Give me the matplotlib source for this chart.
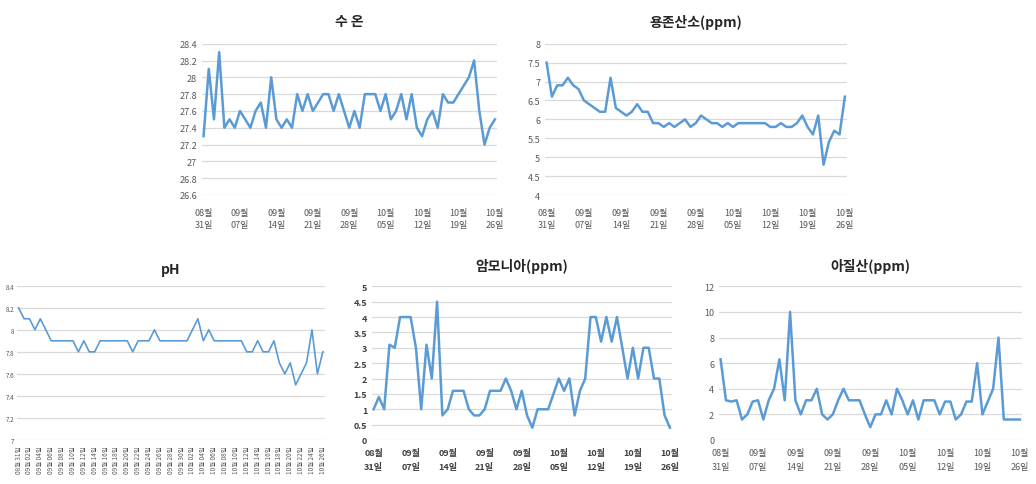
import matplotlib
matplotlib.use("Agg")
import matplotlib.pyplot as plt
import numpy as np
import datetime as dt

plt.rcParams['font.family'] = ['Noto Sans CJK KR', 'DejaVu Sans']

start = dt.date(2023, 8, 31)
dates = [start + dt.timedelta(days=i) for i in range(57)]
date_labels = [f"{d.month:02d}월\n{d.day:02d}일" for d in dates]
date_labels_1line = [f"{d.month:02d}월 {d.day:02d}일" for d in dates]

water_temp = [27.3, 28.1, 27.5, 28.3, 27.4, 27.5, 27.4, 27.6, 27.5, 27.4,
              27.6, 27.7, 27.4, 28.0, 27.5, 27.4, 27.5, 27.4, 27.8, 27.6,
              27.8, 27.6, 27.7, 27.8, 27.8, 27.6, 27.8, 27.6, 27.4, 27.6,
              27.4, 27.8, 27.8, 27.8, 27.6, 27.8, 27.5, 27.6, 27.8, 27.5,
              27.8, 27.4, 27.3, 27.5, 27.6, 27.4, 27.8, 27.7, 27.7, 27.8,
              27.9, 28.0, 28.2, 27.6, 27.2, 27.4, 27.5]
dissolved_oxygen = [7.5, 6.6, 6.9, 6.9, 7.1, 6.9, 6.8, 6.5, 6.4, 6.3,
                    6.2, 6.2, 7.1, 6.3, 6.2, 6.1, 6.2, 6.4, 6.2, 6.2,
                    5.9, 5.9, 5.8, 5.9, 5.8, 5.9, 6.0, 5.8, 5.9, 6.1,
                    6.0, 5.9, 5.9, 5.8, 5.9, 5.8, 5.9, 5.9, 5.9, 5.9,
                    5.9, 5.9, 5.8, 5.8, 5.9, 5.8, 5.8, 5.9, 6.1, 5.8,
                    5.6, 6.1, 4.8, 5.4, 5.7, 5.6, 6.6]
ph = [8.2, 8.1, 8.1, 8.0, 8.1, 8.0, 7.9, 7.9, 7.9, 7.9,
      7.9, 7.8, 7.9, 7.8, 7.8, 7.9, 7.9, 7.9, 7.9, 7.9,
      7.9, 7.8, 7.9, 7.9, 7.9, 8.0, 7.9, 7.9, 7.9, 7.9,
      7.9, 7.9, 8.0, 8.1, 7.9, 8.0, 7.9, 7.9, 7.9, 7.9,
      7.9, 7.9, 7.8, 7.8, 7.9, 7.8, 7.8, 7.9, 7.7, 7.6,
      7.7, 7.5, 7.6, 7.7, 8.0, 7.6, 7.8]
ammonia = [1.0, 1.4, 1.0, 3.1, 3.0, 4.0, 4.0, 4.0, 3.0, 1.0,
           3.1, 2.0, 4.5, 0.8, 1.0, 1.6, 1.6, 1.6, 1.0, 0.8,
           0.8, 1.0, 1.6, 1.6, 1.6, 2.0, 1.6, 1.0, 1.6, 0.8,
           0.4, 1.0, 1.0, 1.0, 1.5, 2.0, 1.6, 2.0, 0.8, 1.6,
           2.0, 4.0, 4.0, 3.2, 4.0, 3.2, 4.0, 3.0, 2.0, 3.0,
           2.0, 3.0, 3.0, 2.0, 2.0, 0.8, 0.4]
nitrite = [6.3, 3.1, 3.0, 3.1, 1.6, 2.0, 3.0, 3.1, 1.6, 3.1,
           4.0, 6.3, 3.1, 10.0, 3.1, 2.0, 3.1, 3.1, 4.0, 2.0,
           1.6, 2.0, 3.1, 4.0, 3.1, 3.1, 3.1, 2.0, 1.0, 2.0,
           2.0, 3.1, 2.0, 4.0, 3.1, 2.0, 3.1, 1.6, 3.1, 3.1,
           3.1, 2.0, 3.0, 3.0, 1.6, 2.0, 3.0, 3.0, 6.0, 2.0,
           3.0, 4.0, 8.0, 1.6, 1.6, 1.6, 1.6]

titles = ["수 온", "용존산소(ppm)", "pH", "암모니아(ppm)", "아질산(ppm)"]

W, H = 1036, 485
fig = plt.figure(figsize=(W / 100, H / 100), dpi=100)

LINE = '#5B9BD5'
GRID = '#D9D9D9'
TICK = '#595959'


def make_ax(l, r, t, b):
    return fig.add_axes([l / W, 1 - b / H, (r - l) / W, (b - t) / H])


def style(ax, yticks, ylabels, title, title_y, step=7, rot=False, ls=1.45, pad=6):
    ax.set_ylim(yticks[0], yticks[-1])
    ax.set_yticks(yticks)
    ax.set_yticklabels(ylabels)
    ax.yaxis.grid(True, color=GRID, linewidth=0.9)
    ax.set_axisbelow(True)
    for s in ax.spines.values():
        s.set_visible(False)
    ax.tick_params(axis='both', length=0, colors=TICK, labelsize=6.5)
    idx = list(range(0, 57, step))
    ax.set_xticks(idx)
    if rot:
        ax.set_xticklabels([date_labels_1line[i] for i in idx], rotation=90,
                           fontsize=4.6, color=TICK)
        ax.tick_params(axis='x', pad=4)
    else:
        ax.set_xticklabels([date_labels[i] for i in idx], fontsize=6.5,
                           color=TICK, linespacing=ls)
        ax.tick_params(axis='x', pad=pad)
    ax.set_xlim(-0.3, 56.4)
    bb = ax.get_position()
    fig.text(bb.x0 + bb.width / 2, 1 - title_y / H, title, ha='center',
             va='center', fontsize=10, fontweight='bold', color='#262626')


x = np.arange(57)

ax1 = make_ax(202, 497, 44.7, 196)
ax1.plot(x, water_temp, color=LINE, linewidth=1.8)
yt = [26.6, 26.8, 27.0, 27.2, 27.4, 27.6, 27.8, 28.0, 28.2, 28.4]
style(ax1, yt, ["26.6", "26.8", "27", "27.2", "27.4", "27.6", "27.8", "28", "28.2", "28.4"],
      titles[0], 22, pad=9.5)

ax2 = make_ax(545, 847, 44.7, 196)
ax2.plot(x, dissolved_oxygen, color=LINE, linewidth=1.8)
yt = [4, 4.5, 5, 5.5, 6, 6.5, 7, 7.5, 8]
style(ax2, yt, ["4", "4.5", "5", "5.5", "6", "6.5", "7", "7.5", "8"], titles[1], 22,
      pad=9.5)

ax3 = make_ax(17, 325, 286.7, 441)
ax3.plot(x, ph, color=LINE, linewidth=1.2)
yt = [7.0, 7.2, 7.4, 7.6, 7.8, 8.0, 8.2, 8.4]
style(ax3, yt, ["7", "7.2", "7.4", "7.6", "7.8", "8", "8.2", "8.4"], titles[2], 270,
      step=2, rot=True)
ax3.tick_params(axis='y', labelsize=4.5, pad=2)

ax4 = make_ax(372, 672, 287.3, 441)
ax4.plot(x, ammonia, color=LINE, linewidth=1.8)
yt = [0, 0.5, 1, 1.5, 2, 2.5, 3, 3.5, 4, 4.5, 5]
style(ax4, yt, ["0", "0.5", "1", "1.5", "2", "2.5", "3", "3.5", "4", "4.5", "5"],
      titles[3], 267, ls=1.6)
ax4.tick_params(axis='both', labelcolor='#404040')
for lab in ax4.get_xticklabels() + ax4.get_yticklabels():
    lab.set_fontweight('bold')

ax5 = make_ax(719, 1022, 287.3, 441)
ax5.plot(x, nitrite, color=LINE, linewidth=1.8)
yt = [0, 2, 4, 6, 8, 10, 12]
style(ax5, yt, ["0", "2", "4", "6", "8", "10", "12"], titles[4], 267, ls=1.6)

fig.savefig("out.png", dpi=100)
